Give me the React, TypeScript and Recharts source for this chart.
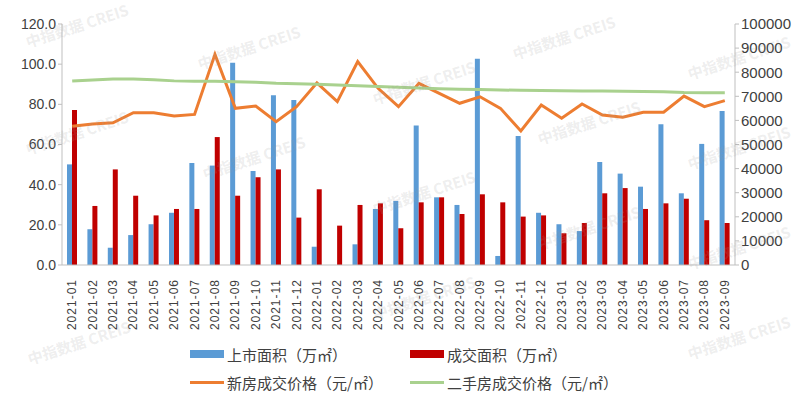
import React from 'react';
import { ComposedChart, Bar, Line, XAxis, YAxis } from 'recharts';

const months = [
  '2021-01', '2021-02', '2021-03', '2021-04', '2021-05', '2021-06', '2021-07', '2021-08', '2021-09', '2021-10', '2021-11', '2021-12',
  '2022-01', '2022-02', '2022-03', '2022-04', '2022-05', '2022-06', '2022-07', '2022-08', '2022-09', '2022-10', '2022-11', '2022-12',
  '2023-01', '2023-02', '2023-03', '2023-04', '2023-05', '2023-06', '2023-07', '2023-08', '2023-09',
];

// 上市面积（万㎡）
const listedArea = [
  50.1, 17.8, 8.6, 14.9, 20.3, 26.0, 50.8, 49.5, 100.7, 46.8, 84.5, 82.2,
  9.1, 0, 10.3, 27.9, 31.9, 69.4, 33.7, 29.9, 102.7, 4.5, 64.2, 26.0,
  20.3, 16.9, 51.3, 45.5, 39.0, 70.1, 35.7, 60.3, 76.7,
];

// 成交面积（万㎡）
const soldArea = [
  77.2, 29.4, 47.6, 34.5, 24.7, 27.9, 27.9, 63.7, 34.5, 43.7, 47.6, 23.6,
  37.7, 19.6, 29.9, 30.7, 18.3, 31.2, 33.7, 25.4, 35.2, 31.2, 24.1, 24.7,
  15.8, 20.9, 35.7, 38.3, 27.9, 30.7, 33.0, 22.3, 20.9,
];

// 新房成交价格（元/㎡）
const newPrice = [
  57600, 58500, 59000, 63200, 63200, 61800, 62500, 87400, 65000, 66000, 59500, 65700,
  75600, 67800, 84400, 73300, 65700, 75400, 71200, 67100, 69800, 65000, 55600, 66400,
  60900, 66800, 62200, 61300, 63400, 63400, 70100, 65700, 68200,
];

// 二手房成交价格（元/㎡）
const resalePrice = [
  76300, 76800, 77200, 77200, 76900, 76400, 76200, 76200, 76000, 75800, 75400, 75200,
  75000, 74700, 74400, 74100, 73800, 73400, 73100, 72900, 72800, 72600, 72500, 72400,
  72300, 72200, 72200, 72100, 72000, 71900, 71600, 71500, 71500,
];

const leftTicks = [0, 20, 40, 60, 80, 100, 120];
const rightTicks = [0, 10000, 20000, 30000, 40000, 50000, 60000, 70000, 80000, 90000, 100000];

const data = months.map((m, i) => ({
  month: m,
  listed: listedArea[i],
  sold: soldArea[i],
  newPrice: newPrice[i],
  resale: resalePrice[i],
}));

const FONT = '"Liberation Sans", Arial, sans-serif';

const legendItems = [
  { label: '上市面积（万㎡）', color: '#5B9BD5', kind: 'bar' },
  { label: '成交面积（万㎡）', color: '#C00000', kind: 'bar' },
  { label: '新房成交价格（元/㎡）', color: '#ED7D31', kind: 'line' },
  { label: '二手房成交价格（元/㎡）', color: '#A9D18E', kind: 'line' },
];

function LegendBox() {
  return (
    <div style={{ position: 'absolute', left: 0, top: 344, width: 800, height: 56, fontFamily: '"Noto Sans CJK SC", sans-serif', fontSize: 15, color: '#404040' }}>
      {legendItems.map((it, i) => {
        const left = i % 2 === 0 ? 190 : 410;
        const top = i < 2 ? 0 : 28;
        return (
          <div key={it.label} style={{ position: 'absolute', left, top, height: 20, display: 'flex', alignItems: 'center', whiteSpace: 'nowrap' }}>
            <span
              style={{
                display: 'inline-block',
                width: 34,
                height: it.kind === 'bar' ? 8 : 3,
                background: it.color,
                marginRight: 3,
              }}
            />
            {it.label}
          </div>
        );
      })}
    </div>
  );
}

const XTick = ({ x, y, payload }) => (
  <text
    x={x + 4}
    y={y + 6}
    transform={`rotate(-90, ${x + 4}, ${y + 6})`}
    textAnchor="end"
    fontSize={12}
    fill="#404040"
    fontFamily={FONT}
    letterSpacing={1}
  >
    {payload.value}
  </text>
);

const watermarks = [
  [28, 48], [200, 70], [28, 155], [205, 180], [375, 105], [375, 215], [515, 60], [540, 145],
  [540, 250], [690, 80], [690, 170], [690, 270], [30, 365], [375, 320], [690, 360],
];

export default function App() {
  return (
    <div style={{ position: 'absolute', left: 0, top: 0, width: 800, height: 400, background: '#fff', overflow: 'hidden' }}>
      <ComposedChart
        width={800}
        height={400}
        data={data}
        margin={{ top: 24, right: 0, bottom: 70, left: 0 }}
        barGap={0}
        barSize={5}
      >
        <XAxis
          dataKey="month"
          interval={0}
          tick={<XTick />}
          tickLine={false}
          axisLine={{ stroke: '#BFBFBF' }}
          height={65}
        />
        <YAxis
          yAxisId="left"
          domain={[0, 120]}
          ticks={leftTicks}
          tickFormatter={(v) => v.toFixed(1)}
          width={62}
          axisLine={{ stroke: '#BFBFBF' }}
          tickLine={{ stroke: '#BFBFBF' }}
          tickSize={4}
          tick={{ fontSize: 14, fill: '#404040', fontFamily: FONT }}
        />
        <YAxis
          yAxisId="right"
          orientation="right"
          domain={[0, 100000]}
          ticks={rightTicks}
          width={65}
          axisLine={{ stroke: '#BFBFBF' }}
          tickLine={{ stroke: '#BFBFBF' }}
          tickSize={4}
          tick={{ fontSize: 15, fill: '#404040', fontFamily: FONT }}
        />
        <Bar yAxisId="left" dataKey="listed" name="上市面积（万㎡）" fill="#5B9BD5" isAnimationActive={false} />
        <Bar yAxisId="left" dataKey="sold" name="成交面积（万㎡）" fill="#C00000" isAnimationActive={false} />
        <Line
          yAxisId="right"
          type="linear"
          dataKey="newPrice"
          name="新房成交价格（元/㎡）"
          stroke="#ED7D31"
          strokeWidth={3}
          dot={false}
          isAnimationActive={false}
        />
        <Line
          yAxisId="right"
          type="linear"
          dataKey="resale"
          name="二手房成交价格（元/㎡）"
          stroke="#A9D18E"
          strokeWidth={3}
          dot={false}
          isAnimationActive={false}
        />
      </ComposedChart>
      <LegendBox />
      <svg width={800} height={400} style={{ position: 'absolute', left: 0, top: 0, pointerEvents: 'none' }}>
        {watermarks.map(([x, y], i) => (
          <text
            key={i}
            x={x}
            y={y}
            transform={`rotate(-18, ${x}, ${y})`}
            fontSize={15}
            fontWeight="bold"
            fill="#9a9a9a"
            fillOpacity={0.18}
            fontFamily='"Noto Sans CJK SC", sans-serif'
          >
            中指数据 CREIS
          </text>
        ))}
      </svg>
    </div>
  );
}
